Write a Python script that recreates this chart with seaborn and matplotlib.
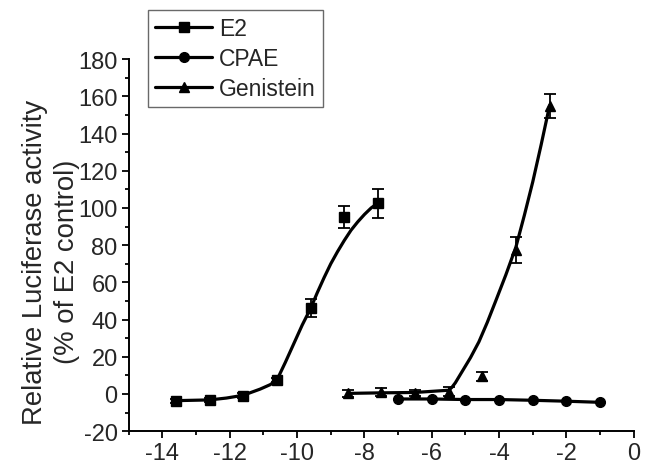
import numpy as np
import matplotlib
matplotlib.use("Agg")
import matplotlib.pyplot as plt
from matplotlib.lines import Line2D
from matplotlib.ticker import MultipleLocator
import seaborn as sns

# measured points (log concentration, % of E2 control)
e2_x = [-13.6, -12.6, -11.6, -10.6, -9.6, -8.6, -7.6]
e2_y = [-3.6, -3.2, -0.9, 7.5, 46.0, 95.3, 102.6]
e2_err = [1.0, 1.0, 1.5, 1.2, 4.8, 6.0, 7.8]

cpae_x = [-7, -6, -5, -4, -3, -2, -1]
cpae_y = [-2.7, -2.7, -3.0, -3.0, -3.4, -3.9, -4.5]
cpae_err = [0.5, 0.5, 0.5, 0.5, 0.5, 0.5, 0.5]

gen_x = [-8.5, -7.5, -6.5, -5.5, -4.5, -3.5, -2.5]
gen_y = [0.3, 1.0, 0.5, 1.2, 9.5, 77.5, 155.0]
gen_err = [2.0, 2.0, 1.5, 2.5, 2.5, 7.0, 6.5]

# fitted curves
e2_fit_x = [-13.6, -12.6, -12.1, -11.6, -11.1, -10.8, -10.6, -10.35, -10.1, -9.85, -9.6,
            -9.4, -9.2, -9.0, -8.8, -8.6, -8.4, -8.2, -8.0, -7.8, -7.6]
e2_fit_y = [-3.6, -3.2, -2.2, -0.7, 2.6, 5.0, 7.5, 17.0, 27.0, 37.0, 46.0,
            54.5, 62.5, 70.0, 76.5, 82.5, 88.0, 92.5, 96.5, 100.0, 102.6]

cpae_fit_x = cpae_x
cpae_fit_y = cpae_y

gen_fit_x = [-8.5, -7.5, -6.5, -5.5, -5.4, -5.3, -5.1, -4.85, -4.6, -4.35, -4.1, -3.8, -3.5,
             -3.25, -3.0, -2.75, -2.5]
gen_fit_y = [0.3, 0.6, 0.8, 2.0, 3.6, 6.0, 12.0, 19.5, 28.0, 38.5, 50.0, 64.0, 79.0,
             96.0, 114.0, 134.0, 155.0]

sns.set_style("ticks")
plt.rcParams["font.family"] = ["Liberation Sans", "DejaVu Sans"]
plt.rcParams["axes.unicode_minus"] = False

fig = plt.figure(figsize=(6.54, 4.77), dpi=100)
ax = fig.add_axes([0.197, 0.094, 0.772, 0.780])

lw = 2.3
sns.lineplot(x=e2_fit_x, y=e2_fit_y, ax=ax, color="black", linewidth=lw, sort=False)
sns.lineplot(x=cpae_fit_x, y=cpae_fit_y, ax=ax, color="black", linewidth=lw, sort=False)
sns.lineplot(x=gen_fit_x, y=gen_fit_y, ax=ax, color="black", linewidth=lw, sort=False)

ax.errorbar(e2_x, e2_y, yerr=e2_err, fmt="s", color="black", markersize=6.5,
            capsize=4.5, elinewidth=1.3, capthick=1.3)
ax.errorbar(cpae_x, cpae_y, yerr=cpae_err, fmt="o", color="black", markersize=7,
            capsize=3, elinewidth=1.3, capthick=1.3)
ax.errorbar(gen_x, gen_y, yerr=gen_err, fmt="^", color="black", markersize=7.5,
            capsize=4.5, elinewidth=1.3, capthick=1.3)

ax.set_xlim(-15, 0)
ax.set_ylim(-20, 180)
ax.xaxis.set_major_locator(MultipleLocator(2))
ax.xaxis.set_minor_locator(MultipleLocator(1))
ax.yaxis.set_major_locator(MultipleLocator(20))
ax.yaxis.set_minor_locator(MultipleLocator(10))
ax.tick_params(which="major", direction="out", length=5, width=1.3, labelsize=17,
               color="black", pad=3)
ax.tick_params(which="minor", direction="out", length=3, width=1.3, color="black")
for s in ["left", "bottom"]:
    ax.spines[s].set_linewidth(1.4)
    ax.spines[s].set_color("black")
sns.despine(ax=ax)

ax.set_ylabel("Relative Luciferase activity\n(% of E2 control)", fontsize=19.8,
              linespacing=1.3)
ax.yaxis.set_label_coords(-0.096, 0.457)

handles = [
    Line2D([], [], color="black", linewidth=lw, marker="s", markersize=6.5),
    Line2D([], [], color="black", linewidth=lw, marker="o", markersize=7),
    Line2D([], [], color="black", linewidth=lw, marker="^", markersize=7.5),
]
leg = fig.legend(handles, ["E2", "CPAE", "Genistein"], loc="upper left",
                 bbox_to_anchor=(148 / 654, 1 - 11 / 477), fontsize=16.5,
                 frameon=True, fancybox=False, handlelength=2.5, handletextpad=0.3,
                 labelspacing=0.3, borderpad=0.3, borderaxespad=0)
leg.get_frame().set_edgecolor("#444444")
leg.get_frame().set_linewidth(1.0)

fig.savefig("out.png", dpi=100)
